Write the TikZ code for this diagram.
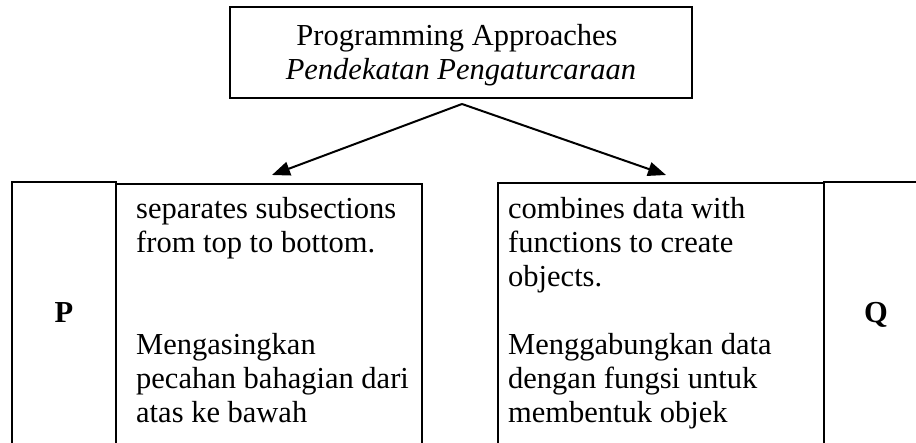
\documentclass[tikz,border=0pt]{standalone}
\usepackage{fontspec}
\setmainfont{Liberation Serif}
\usetikzlibrary{arrows.meta}
\begin{document}
\begin{tikzpicture}[x=1pt,y=-1pt,
  box/.style={draw, line width=2.2pt, inner sep=0pt, rectangle},
  txt/.style={anchor=base west, inner sep=0pt, font=\fontsize{30.5}{34}\selectfont},
  ctxt/.style={anchor=base, inner sep=0pt, font=\fontsize{30.5}{34}\selectfont},
  arr/.style={line width=2pt, -{Triangle[length=18pt,width=14pt]}}]
\useasboundingbox (0,0) rectangle (916,442);
\clip (0,0) rectangle (916,442);
% title box
\node[box, minimum width=462pt, minimum height=91pt] (title) at (461,52.5) {};
\node[ctxt] (t1) at (457,45) {Programming Approaches};
\node[ctxt] (t2) at (461,79) {\itshape Pendekatan Pengaturcaraan};
% boxes
\node[box, minimum width=104pt, minimum height=318pt] (pbox) at (64,341) {};
\node[box, minimum width=306pt, minimum height=316pt] (lbox) at (269,342) {};
\node[box, minimum width=326pt, minimum height=317pt] (rbox) at (661,341.5) {};
\node[box, minimum width=108pt, minimum height=318pt] (qbox) at (878,341) {};
% labels
\node[ctxt] (plab) at (64,322) {\bfseries P};
\node[ctxt] (qlab) at (876,322) {\bfseries Q};
% left text
\node[txt] (l1) at (136,218) {separates subsections};
\node[txt] (l2) at (136,252) {from top to bottom.};
\node[txt] (l3) at (136,354) {Mengasingkan};
\node[txt] (l4) at (136,388) {pecahan bahagian dari};
\node[txt] (l5) at (136,422) {atas ke bawah};
% right text
\node[txt] (r1) at (508,218) {combines data with};
\node[txt] (r2) at (508,252) {functions to create};
\node[txt] (r3) at (508,286) {objects.};
\node[txt] (r4) at (508,354) {Menggabungkan data};
\node[txt] (r5) at (508,388) {dengan fungsi untuk};
\node[txt] (r6) at (508,422) {membentuk objek};
% arrows
\coordinate (apex) at (462,104);
\coordinate (ltip) at (272,175);
\coordinate (rtip) at (666,175);
\draw[arr] (apex) -- (ltip);
\draw[arr] (apex) -- (rtip);
\end{tikzpicture}
\end{document}
